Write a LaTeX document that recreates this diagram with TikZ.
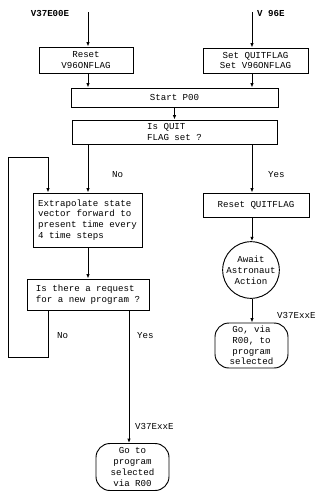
\documentclass[tikz,border=0pt]{standalone}
\usepackage{fontspec}
\setmonofont{Liberation Mono}
\usetikzlibrary{arrows.meta,positioning,shapes.geometric,calc}

\begin{document}
\begin{tikzpicture}[
  x=0.03cm, y=-0.03cm,
  font=\ttfamily\fontsize{7.8}{9.2}\selectfont,
  box/.style={rectangle, draw=black, thick, align=center, inner sep=1pt},
  term/.style={rectangle, rounded corners=0.42cm, draw=black, thick, align=center, inner sep=0pt},
  lbl/.style={inner sep=0pt, anchor=west},
  entry/.style={inner sep=0pt, font=\ttfamily\bfseries\fontsize{7.8}{9.2}\selectfont},
  arrow/.style={-{Latex[length=1.3mm,width=1mm]}, thick},
  flow/.style={thick}
]
\useasboundingbox (0,0) rectangle (323,491);

% entry points
\node[entry] (v37) at (50,13) {V37E00E};
\node[entry, anchor=west] (v96) at (257,13) {V 96E};
\coordinate (in37) at (88,12);
\coordinate (in96) at (252,12);

% top boxes
\node[box, minimum width=2.82cm, minimum height=0.78cm] (reset) at (86,60) {Reset\\V96ONFLAG};
\node[box, minimum width=3.15cm, minimum height=0.75cm] (setq) at (255.5,60.5) {Set QUITFLAG\\Set V96ONFLAG};
\node[box, minimum width=6.21cm, minimum height=0.57cm] (start) at (174.5,97.5) {Start P00};
\node[box, minimum width=6.15cm, minimum height=0.72cm, align=left] (quit) at (174.5,132) {Is QUIT\\FLAG set ?};

% No branch
\node[box, minimum width=3.27cm, minimum height=1.62cm, align=left] (extra) at (87.5,220)
  {Extrapolate state\\vector forward to\\present time every\\4 time steps};
\node[box, minimum width=3.66cm, minimum height=0.93cm, align=left] (request) at (88,294.5)
  {Is there a request\\for a new program ?};
\node[term, minimum width=2.19cm, minimum height=1.41cm] (goto) at (132.5,467)
  {Go to\\program\\selected\\via R00};

% Yes branch
\node[box, minimum width=3.18cm, minimum height=0.72cm] (resetq) at (256,205) {Reset QUITFLAG};
\node[circle, draw=black, thick, minimum size=1.56cm, inner sep=0pt, align=center] (await) at (251,270)
  {Await\\Astronaut\\Action};
\node[term, minimum width=2.19cm, minimum height=1.35cm] (govia) at (251.5,345.5)
  {Go, via\\R00, to\\program\\selected};

% loop corners
\coordinate (lp1) at (48,357);
\coordinate (lp2) at (8,357);
\coordinate (lp3) at (8,157);
\coordinate (lp4) at (48,157);

% labels
\node[lbl] (no1) at (112,175) {No};
\node[lbl] (yes1) at (268,175) {Yes};
\node[lbl] (no2) at (57,336) {No};
\node[lbl] (yes2) at (137,336) {Yes};
\node[lbl] (xx1) at (135,426) {V37ExxE};
\node[lbl] (xx2) at (277,315) {V37ExxE};

% connectors
\draw[arrow] (in37) -- (in37 |- reset.north);
\draw[arrow] (in96) -- (in96 |- setq.north);
\draw[arrow] (in37 |- reset.south) -- (in37 |- start.north);
\draw[arrow] (in96 |- setq.south) -- (in96 |- start.north);
\draw[arrow] (start.south) -- (start.south |- quit.north);
\draw[arrow] (in37 |- quit.south) -- (in37 |- extra.north);
\draw[arrow] (in96 |- quit.south) -- (in96 |- resetq.north);
\draw[arrow] (in37 |- extra.south) -- (in37 |- request.north);
\draw[flow] (lp1 |- request.south) -- (lp1) -- (lp2) -- (lp3) -- (lp4);
\draw[arrow] (lp4) -- (lp4 |- extra.north);
\draw[arrow] ($(request.south)+(41,0)$) -- (goto.north -| 129,0);
\draw[arrow] (in96 |- resetq.south) -- (in96 |- await.north);
\draw[arrow] (in96 |- await.south) -- (in96 |- govia.north);
\end{tikzpicture}
\end{document}
